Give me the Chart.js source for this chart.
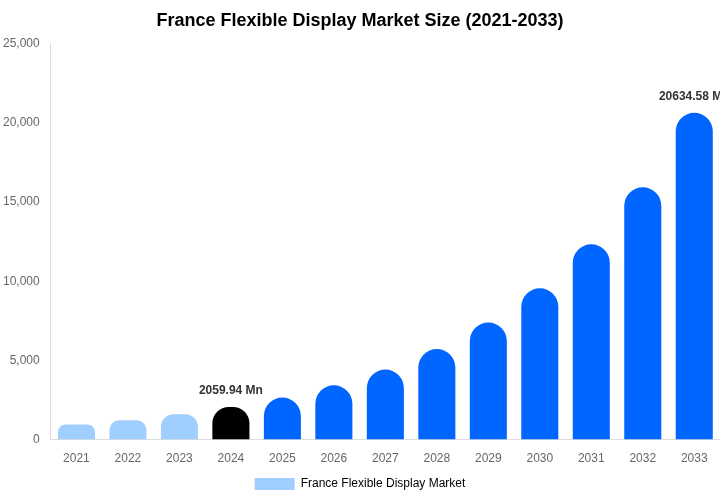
<!DOCTYPE html>
<html>
<head>
<meta charset="utf-8">
<script src="https://cdn.jsdelivr.net/npm/chart.js@4.4.0/dist/chart.umd.min.js"></script>
<style>
  html, body { margin: 0; padding: 0; background: #fff; }
  #wrap { width: 720px; height: 500px; }
</style>
</head>
<body>
<div id="wrap"><canvas id="chart"></canvas></div>
<script>
// years and market size (USD Mn)
const years = ["2021", "2022", "2023", "2024", "2025", "2026", "2027", "2028", "2029", "2030", "2031", "2032", "2033"];
const marketSize = [947, 1218, 1597, 2059.94, 2652, 3428, 4419, 5720, 7386, 9552, 12330, 15928, 20634.58];
// only these bars carry a value label
const labelledYears = ["2024", "2033"];

const HIST = "#a0cfff";
const BASE = "#000000";
const FCST = "#0066ff";

const barColors = years.map(y => y < "2024" ? HIST : (y === "2024" ? BASE : FCST));

// draws "xxxx Mn" above the labelled bars
const valueLabels = {
    id: "valueLabels",
    afterDatasetsDraw(chart) {
        const ctx = chart.ctx;
        const meta = chart.getDatasetMeta(0);
        ctx.save();
        ctx.font = "bold 12px 'Liberation Sans', Arial, sans-serif";
        ctx.fillStyle = "#333";
        ctx.textAlign = "center";
        ctx.textBaseline = "bottom";
        meta.data.forEach((bar, i) => {
            if (!labelledYears.includes(years[i])) return;
            ctx.fillText(marketSize[i].toFixed(2) + " Mn", bar.x, bar.y - 10);
        });
        ctx.restore();
    }
};

new Chart(document.getElementById("chart"), {
    type: "bar",
    data: {
        labels: years,
        datasets: [{
            label: "France Flexible Display Market",
            data: marketSize,
            backgroundColor: barColors,
            borderWidth: 0,
            borderRadius: { topLeft: 20, topRight: 20 },
            borderSkipped: "bottom",
        }]
    },
    options: {
        responsive: true,
        maintainAspectRatio: false,
        animation: false,
        layout: { padding: { left: 0, right: 0, top: 0, bottom: 0 } },
        plugins: {
            title: {
                display: true,
                text: "France Flexible Display Market Size (2021-2033)",
                color: "#000",
                font: { size: 18, weight: "bold", family: "'Liberation Sans', Arial, sans-serif" },
                padding: { top: 10, bottom: 12 },
            },
            legend: {
                position: "bottom",
                labels: {
                    boxWidth: 40,
                    boxHeight: 12,
                    padding: 8,
                    color: "#666",
                    font: { size: 12, family: "'Liberation Sans', Arial, sans-serif" },
                    generateLabels: () => [{
                        text: "France Flexible Display Market",
                        fillStyle: HIST,
                        strokeStyle: HIST,
                        lineWidth: 0,
                        datasetIndex: 0,
                    }],
                },
            },
            tooltip: { enabled: false },
        },
        scales: {
            x: {
                grid: { display: false },
                border: { color: "#ddd" },
                ticks: { color: "#666", padding: 4, font: { size: 12, family: "'Liberation Sans', Arial, sans-serif" } },
            },
            y: {
                min: 0,
                max: 25000,
                ticks: {
                    stepSize: 5000,
                    color: "#666",
                    font: { size: 12, family: "'Liberation Sans', Arial, sans-serif" },
                },
                grid: { display: false },
                border: { color: "#ddd" },
            },
        },
    },
    plugins: [valueLabels],
});
</script>
</body>
</html>
